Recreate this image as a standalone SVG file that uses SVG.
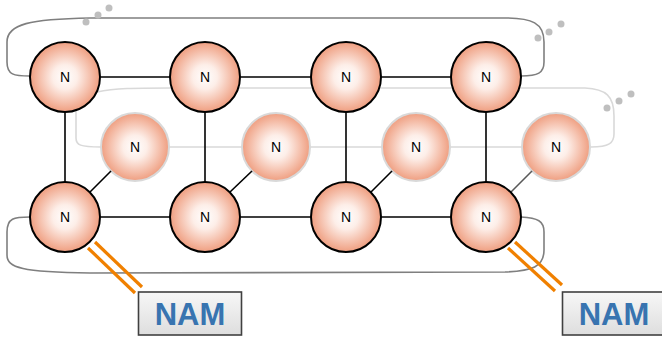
<svg xmlns="http://www.w3.org/2000/svg" width="662" height="337" viewBox="0 0 662 337">
<defs>
<radialGradient id="g" cx="0.5" cy="0.5" r="0.5">
<stop offset="0" stop-color="#ffffff"/>
<stop offset="0.35" stop-color="#fdeee8"/>
<stop offset="1" stop-color="#ef9e80"/>
</radialGradient>
<linearGradient id="bx" x1="0" y1="0" x2="0" y2="1">
<stop offset="0" stop-color="#f7f7f7"/>
<stop offset="1" stop-color="#dedede"/>
</linearGradient>
</defs>
<style>
.f{fill:url(#g);stroke:#000;stroke-width:2}
.b{fill:url(#g);stroke:#d9d9d9;stroke-width:2}
.t{font-family:"Liberation Sans",Arial,sans-serif;font-size:14px;fill:#000;text-anchor:middle}
.e{stroke:#000;stroke-width:1.6;fill:none}
.lg{stroke:#d9d9d9;stroke-width:1.6;fill:none}
.dg{stroke:#7f7f7f;stroke-width:1.6;fill:none}
.or{stroke:#f08000;stroke-width:3.2;fill:none}
.dot{fill:#bfbfbf}
.box{fill:url(#bx);stroke:#404040;stroke-width:1.6}
.nam{font-family:"Liberation Sans",Arial,sans-serif;font-weight:bold;font-size:31px;fill:#3874b0;text-anchor:middle}
</style>
<g id="connectors">
<path class="dg" d="M30 76 C14 76 7 75 7 62 L7 42 C7 24 30 19 90 18 L505 18 C532 18 544 23 544 42 L544 62 C544 73 538 76 521 76"/>
<path class="dg" d="M30 217 C14 217 7 218 7 232 L7 255 C7 268 22 272 90 273 L505 272 C532 271 544 267 544 250 L544 232 C544 221 538 218 521 217"/>
<path class="lg" d="M97 92 C115 88 135 88 170 88 L585 88 C606 89 614 96 614 116 L614 134 C614 143 609 147 591 147"/>
<path class="lg" d="M76 110 L76 138 C76 145 80 147 101 147"/>
<line class="lg" x1="135" y1="147" x2="556" y2="147"/>
<circle class="dot" cx="86" cy="22" r="3.5"/><circle class="dot" cx="98" cy="15" r="3.5"/><circle class="dot" cx="109" cy="8" r="3.5"/>
<circle class="dot" cx="538" cy="38" r="3.5"/><circle class="dot" cx="549" cy="32" r="3.5"/><circle class="dot" cx="561" cy="24" r="3.5"/>
<circle class="dot" cx="607" cy="108" r="3.5"/><circle class="dot" cx="619" cy="101" r="3.5"/><circle class="dot" cx="631" cy="94" r="3.5"/>
</g>
<g id="n5"><circle class="b" cx="135" cy="147" r="34"/><text class="t" x="135" y="152">N</text></g>
<g id="n6"><circle class="b" cx="276" cy="147" r="34"/><text class="t" x="276" y="152">N</text></g>
<g id="n7"><circle class="b" cx="416" cy="147" r="34"/><text class="t" x="416" y="152">N</text></g>
<g id="n8"><circle class="b" cx="556" cy="147" r="34"/><text class="t" x="556" y="152">N</text></g>
<g id="front-connectors">
<line class="e" x1="65" y1="77" x2="486" y2="77"/>
<line class="e" x1="65" y1="217" x2="486" y2="217"/>
<line class="e" x1="65" y1="77" x2="65" y2="217"/>
<line class="e" x1="205" y1="77" x2="205" y2="217"/>
<line class="e" x1="346" y1="77" x2="346" y2="217"/>
<line class="e" x1="486" y1="77" x2="486" y2="217"/>
<line class="e" x1="90" y1="192" x2="111" y2="171"/>
<line class="e" x1="230" y1="192" x2="252" y2="171"/>
<line class="e" x1="371" y1="192" x2="392" y2="171"/>
<line class="e" x1="511" y1="192" x2="532" y2="171" stroke="#595959" style="stroke:#595959"/>
<line class="or" x1="88" y1="248" x2="135" y2="293"/>
<line class="or" x1="95" y1="242" x2="142" y2="287"/>
<line class="or" x1="508" y1="248" x2="555" y2="291"/>
<line class="or" x1="515" y1="242" x2="562" y2="285"/>
</g>
<g id="n1"><circle class="f" cx="65" cy="77" r="35"/><text class="t" x="65" y="82">N</text></g>
<g id="n2"><circle class="f" cx="205" cy="77" r="35"/><text class="t" x="205" y="82">N</text></g>
<g id="n3"><circle class="f" cx="346" cy="77" r="35"/><text class="t" x="346" y="82">N</text></g>
<g id="n4"><circle class="f" cx="486" cy="77" r="35"/><text class="t" x="486" y="82">N</text></g>
<g id="n9"><circle class="f" cx="65" cy="217" r="35"/><text class="t" x="65" y="222">N</text></g>
<g id="n10"><circle class="f" cx="205" cy="217" r="35"/><text class="t" x="205" y="222">N</text></g>
<g id="n11"><circle class="f" cx="346" cy="217" r="35"/><text class="t" x="346" y="222">N</text></g>
<g id="n12"><circle class="f" cx="486" cy="217" r="35"/><text class="t" x="486" y="222">N</text></g>
<g id="nam1"><rect class="box" x="138.5" y="292" width="103" height="43"/><text class="nam" x="190" y="325">NAM</text></g>
<g id="nam2"><rect class="box" x="562.5" y="292" width="103" height="43"/><text class="nam" x="614" y="325">NAM</text></g>
</svg>
